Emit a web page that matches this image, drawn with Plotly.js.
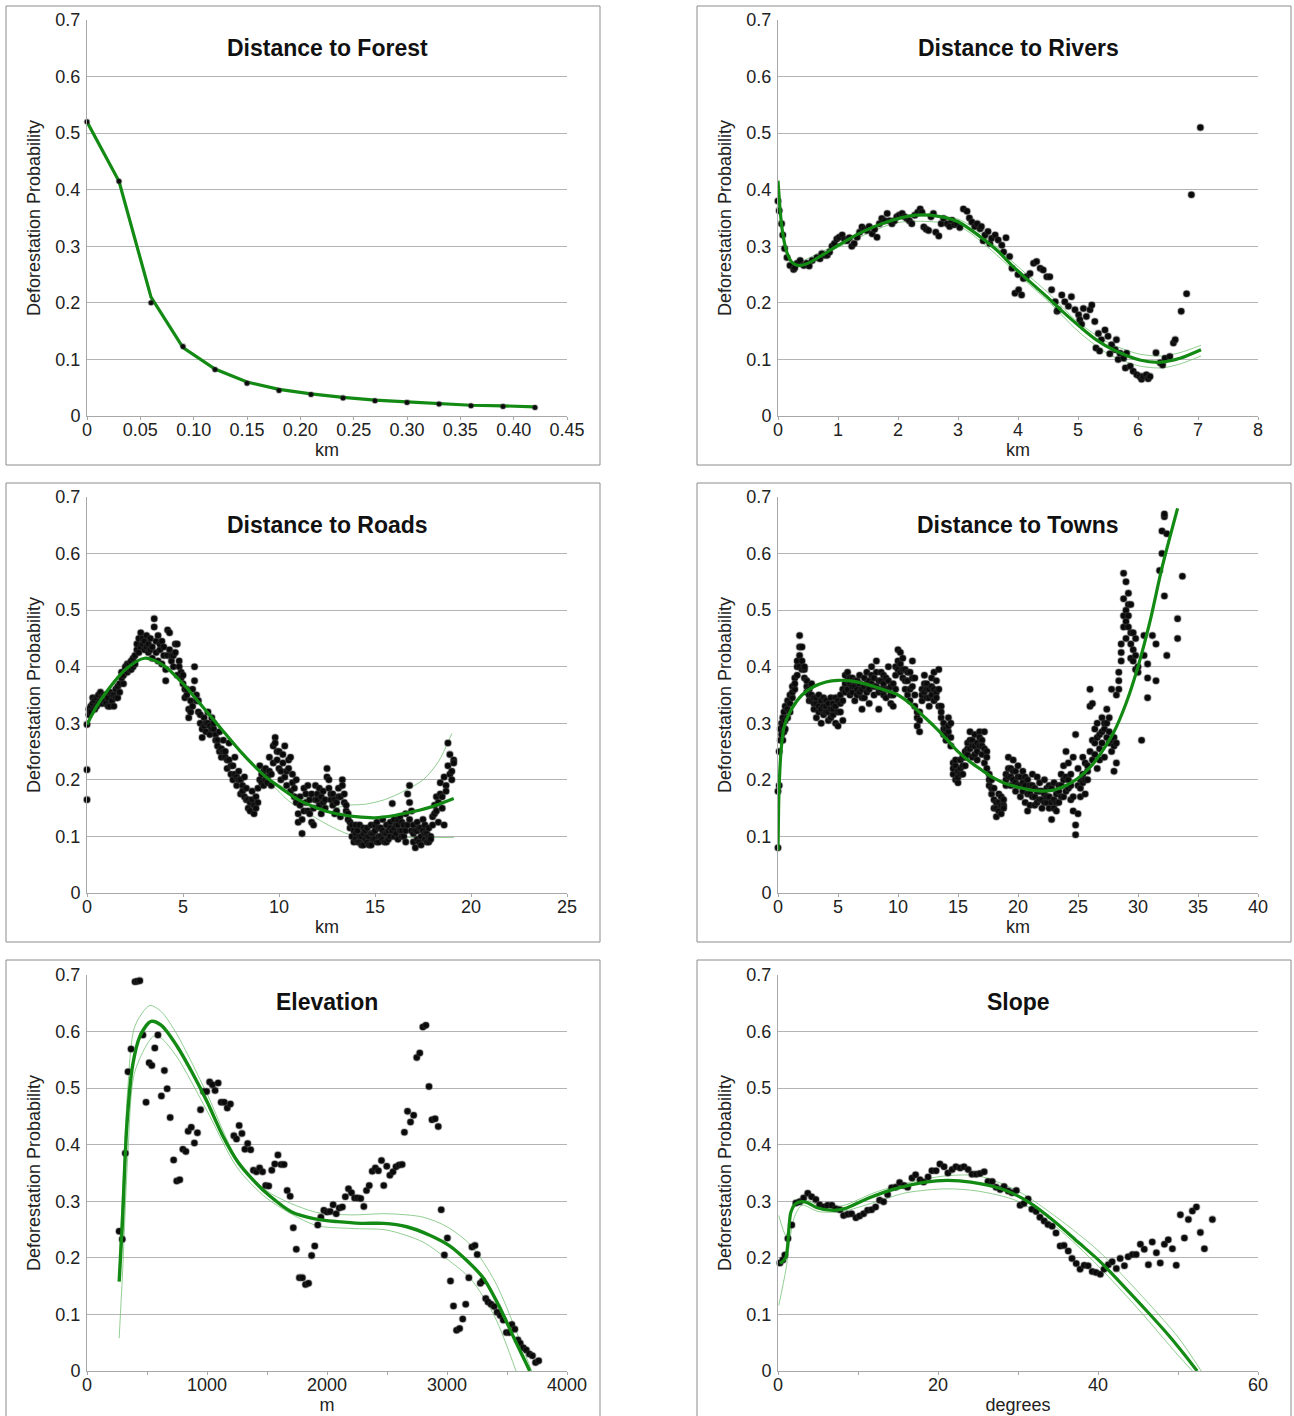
<!DOCTYPE html>
<html><head><meta charset="utf-8">
<script src="https://cdn.plot.ly/plotly-3.0.1.min.js"></script>
<style>html,body{margin:0;padding:0;background:#fff}#c{width:1294px;height:1416px}</style>
</head><body><div id="c"></div>
<script>
// ---------- titles / labels ----------
const panelTitles = ["Distance to Forest","Distance to Rivers","Distance to Roads","Distance to Towns","Elevation","Slope"];
const xTitles = ["km","km","km","km","m","degrees"];
const yTitle = "Deforestation Probability";
const xRanges = [[0,0.45],[0,8],[0,25],[0,40],[0,4000],[0,60]];
const xTickVals = [[0,0.05,0.10,0.15,0.20,0.25,0.30,0.35,0.40,0.45],[0,1,2,3,4,5,6,7,8],[0,5,10,15,20,25],[0,5,10,15,20,25,30,35,40],[0,1000,2000,3000,4000],[0,20,40,60]];
const xTickText = [["0","0.05","0.10","0.15","0.20","0.25","0.30","0.35","0.40","0.45"],["0","1","2","3","4","5","6","7","8"],["0","5","10","15","20","25"],["0","5","10","15","20","25","30","35","40"],["0","1000","2000","3000","4000"],["0","20","40","60"]];

// ---------- Distance to Forest ----------
const forestX = [0,0.03,0.06,0.09,0.12,0.15,0.18,0.21,0.24,0.27,0.30,0.33,0.36,0.39,0.42];
const forestY = [0.52,0.415,0.20,0.123,0.082,0.058,0.045,0.038,0.032,0.027,0.024,0.021,0.018,0.017,0.015];
const forestFitY = [0.52,0.415,0.21,0.121,0.083,0.060,0.047,0.039,0.033,0.028,0.025,0.022,0.019,0.018,0.016];

// ---------- Distance to Rivers ----------
const riversPts = [[0,0.38],[0.02,0.363],[0.06,0.34],[0.08,0.32],[0.11,0.296],[0.15,0.28],[0.2,0.266],[0.26,0.259],[0.28,0.262],[0.32,0.27],[0.37,0.275],[0.43,0.266],[0.48,0.27],[0.52,0.265],[0.57,0.275],[0.65,0.28],[0.7,0.278],[0.73,0.287],[0.78,0.284],[0.82,0.284],[0.86,0.29],[0.9,0.30],[0.94,0.305],[0.98,0.313],[1.02,0.316],[1.07,0.32],[1.11,0.312],[1.15,0.31],[1.19,0.315],[1.23,0.30],[1.27,0.305],[1.32,0.316],[1.36,0.325],[1.4,0.334],[1.44,0.33],[1.48,0.328],[1.52,0.335],[1.57,0.322],[1.61,0.33],[1.65,0.316],[1.69,0.34],[1.73,0.349],[1.78,0.345],[1.82,0.358],[1.86,0.345],[1.9,0.34],[1.94,0.345],[1.98,0.352],[2.02,0.355],[2.07,0.358],[2.11,0.352],[2.15,0.349],[2.19,0.345],[2.23,0.34],[2.28,0.355],[2.33,0.36],[2.37,0.366],[2.4,0.36],[2.43,0.334],[2.47,0.33],[2.51,0.328],[2.55,0.352],[2.59,0.358],[2.63,0.325],[2.68,0.318],[2.72,0.34],[2.76,0.349],[2.82,0.34],[2.86,0.335],[2.9,0.346],[2.94,0.338],[2.98,0.34],[3.03,0.333],[3.09,0.366],[3.15,0.362],[3.19,0.35],[3.23,0.343],[3.28,0.335],[3.32,0.34],[3.37,0.331],[3.39,0.335],[3.42,0.31],[3.45,0.32],[3.5,0.326],[3.53,0.305],[3.56,0.314],[3.62,0.32],[3.67,0.311],[3.73,0.302],[3.76,0.29],[3.8,0.315],[3.86,0.282],[3.9,0.261],[3.95,0.217],[4.0,0.25],[4.01,0.223],[4.06,0.214],[4.09,0.243],[4.14,0.246],[4.2,0.252],[4.26,0.27],[4.31,0.273],[4.37,0.261],[4.42,0.258],[4.48,0.246],[4.53,0.246],[4.56,0.223],[4.62,0.202],[4.65,0.185],[4.67,0.188],[4.73,0.214],[4.78,0.202],[4.84,0.194],[4.89,0.211],[4.95,0.188],[5.01,0.179],[5.03,0.17],[5.06,0.162],[5.09,0.19],[5.14,0.176],[5.2,0.188],[5.23,0.196],[5.28,0.167],[5.3,0.12],[5.34,0.146],[5.36,0.115],[5.39,0.135],[5.45,0.152],[5.5,0.141],[5.53,0.11],[5.56,0.126],[5.62,0.117],[5.64,0.135],[5.67,0.10],[5.7,0.111],[5.76,0.102],[5.79,0.085],[5.81,0.111],[5.87,0.088],[5.92,0.079],[5.98,0.073],[6.03,0.07],[6.06,0.065],[6.09,0.07],[6.14,0.073],[6.17,0.066],[6.2,0.07],[6.3,0.112],[6.37,0.094],[6.41,0.09],[6.45,0.102],[6.53,0.105],[6.59,0.129],[6.62,0.135],[6.72,0.185],[6.81,0.216],[6.89,0.391],[7.04,0.51]];
const riversFitX = [0,0.04,0.08,0.12,0.17,0.23,0.34,0.5,0.73,1.01,1.34,1.73,2.29,2.68,3.01,3.37,3.65,3.92,4.2,4.48,4.75,5.03,5.3,5.59,6.03,6.37,6.7,7.05];
const riversFitY = [0.416,0.358,0.322,0.30,0.283,0.272,0.266,0.27,0.284,0.302,0.322,0.34,0.355,0.353,0.343,0.317,0.293,0.264,0.237,0.211,0.184,0.158,0.135,0.117,0.099,0.095,0.102,0.117];
const riversUpX = [0.3,1,2,3,3.5,4,4.5,5,5.5,6,6.4,6.7,7.05];
const riversUpY = [0.268,0.304,0.350,0.348,0.312,0.264,0.218,0.166,0.130,0.110,0.106,0.112,0.125];
const riversLoX = [0.3,1,2,3,3.5,4,4.5,5,5.5,6,6.4,6.7,7.05];
const riversLoY = [0.262,0.298,0.342,0.336,0.298,0.250,0.203,0.150,0.110,0.089,0.085,0.092,0.106];

// ---------- Distance to Roads: [km, prob, prob, ...] ----------
const roadsPts = [[0,0.165,0.218,0.298],[0.1,0.315,0.325],[0.2,0.33,0.32],[0.3,0.335,0.345],[0.4,0.34,0.325],[0.5,0.345,0.33],[0.6,0.35,0.335],[0.7,0.355,0.34],[0.8,0.345,0.335],[0.9,0.34,0.35],[1.0,0.335,0.35],[1.1,0.345,0.33],[1.2,0.33,0.355],[1.3,0.34,0.35],[1.4,0.35,0.33],[1.5,0.36,0.345],[1.6,0.345,0.365],[1.7,0.37,0.355],[1.8,0.38,0.39],[1.9,0.385,0.37],[2.0,0.395,0.40],[2.1,0.39,0.405],[2.2,0.405,0.395],[2.3,0.41,0.395],[2.4,0.40,0.415],[2.5,0.42,0.405],[2.6,0.43,0.44],[2.7,0.45,0.425],[2.8,0.46,0.435],[2.9,0.44,0.45],[3.0,0.445,0.43],[3.1,0.455,0.435],[3.2,0.44,0.425],[3.3,0.45,0.43],[3.4,0.435,0.415],[3.5,0.485,0.47],[3.6,0.445,0.425],[3.7,0.455,0.41],[3.8,0.43,0.44],[3.9,0.445,0.405],[4.0,0.42,0.435],[4.1,0.395,0.375],[4.2,0.465,0.42],[4.3,0.46,0.43],[4.4,0.41,0.42],[4.5,0.42,0.40],[4.6,0.425,0.44],[4.7,0.44,0.385],[4.8,0.41,0.40],[4.9,0.39,0.38],[5.0,0.37,0.385],[5.1,0.36,0.345],[5.2,0.35,0.36],[5.3,0.325,0.31],[5.4,0.34,0.32],[5.5,0.33,0.36],[5.6,0.40,0.375],[5.7,0.35,0.34],[5.8,0.34,0.32],[5.9,0.30,0.315],[6.0,0.29,0.275],[6.1,0.31,0.295],[6.2,0.30,0.285],[6.3,0.32,0.30],[6.4,0.295,0.28],[6.5,0.31,0.29],[6.6,0.29,0.30],[6.7,0.28,0.27],[6.8,0.27,0.26],[6.9,0.285,0.25],[7.0,0.24,0.255],[7.1,0.27,0.25],[7.2,0.24,0.25],[7.3,0.22,0.235],[7.4,0.265,0.235],[7.5,0.21,0.225],[7.6,0.225,0.20],[7.7,0.24,0.21],[7.8,0.205,0.19],[7.9,0.215,0.20],[8.0,0.175,0.20],[8.1,0.19,0.18],[8.2,0.17,0.205],[8.3,0.185,0.165],[8.4,0.165,0.15],[8.5,0.145,0.16],[8.6,0.165,0.18],[8.7,0.155,0.14],[8.8,0.15,0.17],[8.9,0.185,0.16],[9.0,0.20,0.225],[9.1,0.21,0.195],[9.2,0.215,0.19],[9.3,0.22,0.20],[9.4,0.205,0.195],[9.5,0.24,0.215],[9.6,0.21,0.19],[9.7,0.26,0.23],[9.8,0.275,0.265],[9.9,0.235,0.25],[10.0,0.22,0.25],[10.1,0.20,0.215],[10.2,0.23,0.245],[10.3,0.26,0.205],[10.4,0.215,0.19],[10.5,0.22,0.235],[10.6,0.18,0.24],[10.7,0.195,0.21],[10.8,0.17,0.185],[10.9,0.20,0.16],[11.0,0.14,0.125],[11.1,0.155,0.17],[11.2,0.105,0.13],[11.3,0.145,0.185],[11.4,0.175,0.16],[11.5,0.19,0.145],[11.6,0.14,0.165],[11.7,0.175,0.125],[11.8,0.12,0.15],[11.9,0.19,0.165],[12.0,0.165,0.175],[12.1,0.155,0.185],[12.2,0.17,0.14],[12.3,0.18,0.16],[12.4,0.165,0.15],[12.5,0.22,0.205],[12.6,0.20,0.185],[12.7,0.165,0.175],[12.8,0.175,0.155],[12.9,0.14,0.165],[13.0,0.145,0.16],[13.1,0.185,0.17],[13.2,0.17,0.135],[13.3,0.20,0.19],[13.4,0.16,0.175],[13.5,0.145,0.155],[13.6,0.13,0.14],[13.7,0.115,0.125],[13.8,0.10,0.12],[13.9,0.09,0.11],[14.0,0.105,0.095,0.12],[14.1,0.11,0.09],[14.2,0.09,0.12,0.10],[14.3,0.10,0.085],[14.4,0.085,0.105,0.115],[14.5,0.095,0.11],[14.6,0.115,0.09,0.10],[14.7,0.10,0.085],[14.8,0.085,0.12,0.105],[14.9,0.105,0.095],[15.0,0.095,0.11,0.12],[15.1,0.125,0.09],[15.2,0.09,0.10,0.115],[15.3,0.115,0.10],[15.4,0.13,0.095,0.11],[15.5,0.105,0.09],[15.6,0.12,0.09,0.105],[15.7,0.11,0.095],[15.8,0.125,0.10,0.115],[15.9,0.158,0.11],[16.0,0.115,0.13,0.10],[16.1,0.105,0.12],[16.2,0.12,0.095,0.13],[16.3,0.135,0.11],[16.4,0.11,0.125,0.10],[16.5,0.10,0.12],[16.6,0.14,0.09,0.11],[16.7,0.175,0.12],[16.8,0.19,0.16,0.13],[16.9,0.145,0.11],[17.0,0.12,0.105,0.09],[17.1,0.08,0.11],[17.2,0.11,0.125,0.095],[17.3,0.09,0.115],[17.4,0.115,0.10,0.085],[17.5,0.13,0.11],[17.6,0.095,0.12,0.105],[17.7,0.105,0.09],[17.8,0.09,0.115,0.10],[17.9,0.10,0.095],[18.0,0.135,0.12],[18.1,0.155,0.14],[18.2,0.145,0.17],[18.3,0.16,0.125],[18.4,0.175,0.195],[18.5,0.15,0.17],[18.6,0.205,0.12],[18.7,0.19,0.18],[18.8,0.265,0.225],[18.9,0.245,0.21],[19.0,0.20,0.215],[19.1,0.235,0.23]];
const roadsFitX = [0,0.5,1,2,3,4,5,6,7,8,9,9.5,10,11,12,13,14,15,16,17,18,19.1];
const roadsFitY = [0.298,0.33,0.355,0.395,0.415,0.402,0.37,0.33,0.29,0.25,0.215,0.20,0.188,0.165,0.15,0.14,0.135,0.133,0.137,0.144,0.153,0.167];
const roadsUpX = [9.5,11,12,13,13.5,14.5,15.5,16.5,17.5,18.3,19.0];
const roadsUpY = [0.202,0.172,0.158,0.151,0.155,0.157,0.165,0.180,0.200,0.232,0.282];
const roadsLoX = [9.5,10.5,11.8,12.8,13.7,14.5,15.5,16.5,17.5,18.5,19.1];
const roadsLoY = [0.197,0.163,0.135,0.116,0.103,0.10,0.099,0.098,0.098,0.098,0.098];

// ---------- Distance to Towns: [km, prob, prob, ...] ----------
const townsPts = [[0.0,0.08,0.18],[0.1,0.19,0.25],[0.2,0.27,0.29],[0.3,0.28,0.3],[0.4,0.295,0.31,0.27],[0.5,0.32,0.285],[0.6,0.305,0.33,0.29],[0.8,0.31,0.34,0.325],[1.0,0.335,0.35,0.32],[1.2,0.365,0.345,0.355],[1.4,0.38,0.36,0.37],[1.6,0.40,0.385,0.41],[1.8,0.455,0.42,0.40,0.435],[2.0,0.435,0.41,0.395],[2.2,0.395,0.38,0.40],[2.4,0.365,0.375,0.355],[2.6,0.35,0.36,0.34],[2.8,0.34,0.37,0.35],[3.0,0.345,0.325,0.335],[3.2,0.31,0.335,0.345],[3.4,0.35,0.32,0.33],[3.6,0.30,0.34,0.325],[3.8,0.33,0.345,0.315],[4.0,0.32,0.34,0.33],[4.2,0.335,0.305,0.32],[4.4,0.345,0.325,0.31],[4.6,0.315,0.335,0.325],[4.8,0.30,0.33,0.345],[5.0,0.295,0.34,0.32],[5.2,0.32,0.35,0.335],[5.4,0.305,0.36,0.34],[5.6,0.385,0.37,0.355],[5.8,0.39,0.36,0.375],[6.0,0.37,0.35,0.38],[6.2,0.38,0.355,0.365],[6.4,0.365,0.34,0.375],[6.6,0.375,0.35,0.36],[6.8,0.355,0.385,0.37],[7.0,0.36,0.325,0.345],[7.2,0.38,0.345,0.365],[7.4,0.39,0.37,0.355],[7.6,0.335,0.36,0.375],[7.8,0.40,0.37,0.385],[8.0,0.38,0.35,0.365],[8.2,0.41,0.365,0.39],[8.4,0.375,0.325,0.355],[8.6,0.39,0.36,0.375],[8.8,0.35,0.37,0.385],[9.0,0.345,0.38,0.36],[9.2,0.40,0.36,0.375],[9.4,0.335,0.35,0.365],[9.6,0.37,0.33,0.35],[9.8,0.40,0.36,0.385],[10.0,0.43,0.41,0.395],[10.2,0.425,0.39,0.405],[10.4,0.415,0.38,0.395],[10.6,0.395,0.36,0.375],[10.8,0.375,0.35,0.39],[11.0,0.39,0.34,0.36],[11.2,0.41,0.365,0.38],[11.4,0.38,0.35,0.33],[11.6,0.31,0.295,0.32],[11.8,0.285,0.32,0.305],[12.0,0.36,0.34,0.35],[12.2,0.385,0.355,0.37],[12.4,0.345,0.37,0.36],[12.6,0.33,0.36,0.345],[12.8,0.38,0.35,0.365],[13.0,0.39,0.34,0.36],[13.2,0.375,0.355,0.345],[13.4,0.395,0.33,0.36],[13.6,0.31,0.33,0.32],[13.8,0.28,0.30,0.29],[14.0,0.29,0.27,0.28],[14.2,0.31,0.285,0.295],[14.4,0.275,0.30,0.26],[14.6,0.23,0.21,0.22],[14.8,0.20,0.225,0.235],[15.0,0.195,0.215,0.205],[15.2,0.235,0.22,0.21],[15.4,0.21,0.24,0.225],[15.6,0.25,0.225,0.24],[15.8,0.265,0.245,0.255],[16.0,0.285,0.255,0.27],[16.2,0.27,0.24,0.26],[16.4,0.26,0.28,0.245],[16.6,0.25,0.235,0.265],[16.8,0.285,0.26,0.275],[17.0,0.27,0.245,0.26],[17.2,0.285,0.23,0.255],[17.4,0.22,0.25,0.24],[17.6,0.21,0.19,0.20],[17.8,0.175,0.20,0.185],[18.0,0.165,0.185,0.15],[18.2,0.135,0.15,0.16],[18.4,0.145,0.16,0.175],[18.6,0.17,0.14,0.155],[18.8,0.155,0.15,0.165],[19.0,0.19,0.21,0.20],[19.2,0.24,0.205,0.22],[19.4,0.22,0.19,0.205],[19.6,0.235,0.20,0.215],[19.8,0.215,0.18,0.195],[20.0,0.19,0.225,0.205],[20.2,0.205,0.17,0.19],[20.4,0.18,0.215,0.195],[20.6,0.19,0.16,0.205],[20.8,0.145,0.20,0.175],[21.0,0.175,0.155,0.19],[21.2,0.21,0.19,0.17],[21.4,0.17,0.185,0.155],[21.6,0.205,0.16,0.18],[21.8,0.18,0.195,0.165],[22.0,0.165,0.15,0.18],[22.2,0.20,0.175,0.16],[22.4,0.185,0.16,0.17],[22.6,0.15,0.17,0.19],[22.8,0.13,0.185,0.16],[23.0,0.165,0.195,0.15],[23.2,0.145,0.175,0.16],[23.4,0.18,0.16,0.19],[23.6,0.21,0.19,0.17],[23.8,0.225,0.17,0.20],[24.0,0.25,0.205,0.18],[24.2,0.23,0.185,0.20],[24.4,0.165,0.21,0.19],[24.6,0.24,0.145,0.17],[24.8,0.28,0.12,0.103],[25.0,0.14,0.22,0.19],[25.2,0.20,0.185,0.17],[25.4,0.24,0.21,0.195],[25.6,0.175,0.23,0.20],[25.8,0.20,0.215,0.225],[26.0,0.33,0.36,0.25],[26.2,0.335,0.27,0.235],[26.4,0.29,0.245,0.265],[26.6,0.30,0.22,0.275],[26.8,0.28,0.255,0.235],[27.0,0.31,0.265,0.285],[27.2,0.29,0.24,0.30],[27.4,0.325,0.30,0.275],[27.6,0.285,0.265,0.31],[27.8,0.36,0.27,0.25],[28.0,0.26,0.215,0.275],[28.2,0.35,0.23,0.265],[28.4,0.39,0.36,0.375],[28.6,0.44,0.41,0.425],[28.8,0.565,0.52,0.47,0.49],[29.0,0.55,0.50,0.45,0.48],[29.2,0.49,0.47,0.53,0.51],[29.4,0.51,0.44,0.415,0.46],[29.6,0.46,0.43,0.41],[29.8,0.45,0.395,0.42],[30.0,0.39,0.40],[30.3,0.27],[30.5,0.455,0.42],[30.8,0.405,0.38,0.345],[31.2,0.455],[31.5,0.375,0.44],[31.8,0.57],[32.0,0.60,0.64],[32.2,0.665,0.67,0.525],[32.4,0.42,0.635],[33.3,0.485,0.45],[33.7,0.56]];
const townsFitX = [0,0.05,0.1,0.25,0.5,1,2,3,4,5,6,7,8,9,10,11,12,13,14,15,16,17,18,19,20,21,22,23,24,25,26,27,28,29,30,31,32,33.3];
const townsFitY = [0.075,0.15,0.19,0.25,0.293,0.32,0.35,0.365,0.373,0.376,0.375,0.371,0.365,0.358,0.35,0.335,0.315,0.295,0.273,0.25,0.232,0.217,0.203,0.193,0.187,0.182,0.18,0.182,0.19,0.203,0.222,0.25,0.285,0.335,0.40,0.48,0.575,0.68];

// ---------- Elevation ----------
const elevX = [268,294,319,342,367,400,420,440,466,492,518,540,565,591,620,645,668,693,722,748,773,799,824,843,869,895,920,946,971,997,1022,1045,1067,1093,1118,1144,1169,1195,1224,1246,1268,1291,1316,1339,1364,1387,1412,1438,1463,1489,1514,1540,1565,1591,1617,1642,1668,1693,1719,1744,1770,1795,1821,1846,1872,1898,1923,1949,1974,2000,2026,2051,2077,2102,2128,2153,2179,2204,2230,2256,2281,2307,2329,2352,2377,2403,2428,2454,2473,2498,2524,2550,2575,2601,2626,2645,2671,2696,2722,2748,2773,2799,2824,2850,2875,2901,2927,2952,2978,3003,3029,3054,3080,3105,3131,3156,3182,3208,3233,3252,3278,3297,3323,3342,3367,3393,3418,3444,3469,3495,3521,3540,3565,3591,3610,3636,3661,3687,3712,3738,3764];
const elevY = [0.247,0.233,0.385,0.529,0.569,0.688,0.689,0.69,0.594,0.475,0.545,0.54,0.571,0.594,0.486,0.531,0.499,0.448,0.373,0.336,0.338,0.392,0.388,0.424,0.431,0.403,0.421,0.462,0.494,0.494,0.511,0.506,0.496,0.509,0.475,0.475,0.465,0.472,0.416,0.41,0.434,0.42,0.392,0.402,0.391,0.355,0.352,0.359,0.352,0.328,0.327,0.355,0.366,0.382,0.365,0.365,0.319,0.309,0.253,0.215,0.165,0.165,0.153,0.155,0.204,0.221,0.258,0.272,0.284,0.281,0.282,0.294,0.278,0.288,0.29,0.308,0.322,0.315,0.306,0.306,0.305,0.291,0.319,0.328,0.353,0.359,0.354,0.372,0.328,0.362,0.346,0.352,0.361,0.364,0.365,0.422,0.459,0.44,0.452,0.554,0.562,0.608,0.611,0.503,0.444,0.446,0.432,0.285,0.205,0.235,0.159,0.115,0.072,0.075,0.092,0.118,0.165,0.219,0.222,0.206,0.155,0.159,0.128,0.122,0.118,0.114,0.104,0.098,0.09,0.068,0.068,0.082,0.074,0.055,0.049,0.041,0.037,0.03,0.027,0.015,0.018];
const elevFitX = [268,294,332,380,444,533,620,748,875,1003,1131,1259,1387,1514,1706,1898,2089,2281,2473,2665,2856,3016,3176,3304,3431,3559,3690];
const elevFitY = [0.158,0.258,0.434,0.54,0.593,0.618,0.611,0.575,0.528,0.475,0.416,0.369,0.337,0.311,0.281,0.269,0.264,0.261,0.261,0.255,0.24,0.222,0.193,0.164,0.116,0.058,0.0];
const elevUpX = [268,300,340,400,524,620,750,1000,1250,1500,1900,2200,2500,2800,3000,3200,3400,3550,3705];
const elevUpY = [0.20,0.33,0.50,0.61,0.646,0.635,0.595,0.49,0.375,0.318,0.281,0.276,0.278,0.272,0.255,0.222,0.158,0.085,0.0];
const elevLoX = [268,300,340,400,556,620,750,1000,1250,1500,1900,2200,2500,2800,3000,3200,3400,3575];
const elevLoY = [0.058,0.19,0.38,0.53,0.592,0.588,0.555,0.46,0.36,0.305,0.258,0.252,0.249,0.228,0.198,0.162,0.095,0.0];

// ---------- Slope ----------
const slopeX = [0.24,0.6,0.86,1.24,1.72,2.24,2.72,3.2,3.72,4.2,4.73,5.2,5.73,6.2,6.73,7.2,7.73,8.2,8.73,9.2,9.74,10.2,10.7,11.2,11.7,12.2,12.7,13.2,13.7,14.2,14.7,15.2,15.75,16.2,16.75,17.2,17.75,18.2,18.76,19.24,19.76,20.24,20.76,21.24,21.77,22.24,22.77,23.25,23.77,24.25,24.77,25.25,25.78,26.25,26.78,27.26,27.78,28.26,28.78,29.26,29.79,30.26,30.74,31.26,31.74,32.27,32.74,33.27,33.75,34.27,34.75,35.27,35.75,36.28,36.75,37.28,37.76,38.28,38.76,39.28,39.76,40.29,40.76,41.29,41.77,42.29,42.77,43.3,43.77,44.3,44.77,45.3,45.78,46.3,46.78,47.3,47.78,48.3,48.78,49.3,49.78,50.3,50.8,51.3,51.8,52.3,52.8,53.3,54.3];
const slopeY = [0.191,0.196,0.205,0.234,0.258,0.297,0.299,0.306,0.314,0.308,0.303,0.294,0.29,0.293,0.293,0.287,0.285,0.275,0.277,0.278,0.271,0.274,0.278,0.284,0.285,0.29,0.302,0.299,0.312,0.324,0.325,0.333,0.328,0.325,0.341,0.347,0.338,0.334,0.343,0.354,0.354,0.366,0.361,0.35,0.356,0.361,0.359,0.361,0.356,0.348,0.348,0.349,0.352,0.335,0.335,0.325,0.321,0.326,0.318,0.315,0.319,0.293,0.296,0.304,0.286,0.282,0.272,0.265,0.259,0.256,0.244,0.221,0.222,0.212,0.199,0.19,0.18,0.187,0.186,0.176,0.174,0.171,0.18,0.188,0.193,0.181,0.199,0.186,0.202,0.206,0.206,0.224,0.215,0.188,0.228,0.209,0.191,0.224,0.232,0.216,0.187,0.276,0.235,0.268,0.283,0.29,0.245,0.216,0.268];
const slopeFitX = [0.24,0.95,1.6,2.24,3.34,5.0,6.9,8.35,11.2,14.6,18.4,21.2,24.1,27.9,31.3,34.6,37.5,40.3,43.2,46.1,48.9,50.7,52.4];
const slopeFitY = [0.19,0.20,0.28,0.296,0.299,0.288,0.284,0.287,0.305,0.322,0.334,0.337,0.334,0.322,0.299,0.264,0.228,0.193,0.150,0.106,0.062,0.031,0.0];
const slopeUpX = [0.1,1,2,3,5,8,12,16,21,25,30,35,40,45,50,52.9];
const slopeUpY = [0.275,0.24,0.30,0.305,0.294,0.292,0.315,0.332,0.345,0.345,0.318,0.27,0.213,0.14,0.06,0.0];
const slopeLoX = [0.1,1,2,3,5,8,12,16,21,25,30,35,40,45,50,51.8];
const slopeLoY = [0.116,0.18,0.27,0.293,0.282,0.282,0.298,0.315,0.322,0.318,0.30,0.252,0.186,0.11,0.028,0.0];

// ---------- helpers ----------
function flat(groups){const x=[],y=[];groups.forEach(g=>{for(let i=1;i<g.length;i++){x.push(g[0]);y.push(g[i]);}});return {x,y};}
function pairs(p){return {x:p.map(a=>a[0]),y:p.map(a=>a[1])};}
const GREEN = '#138a13', BAND = 'rgba(110,190,110,0.75)';
const FONT = 'Liberation Sans, Arial, Helvetica, sans-serif';
function pts(d,i,size){return {type:'scatter',mode:'markers',x:d.x,y:d.y,xaxis:'x'+(i===1?'':i),yaxis:'y'+(i===1?'':i),
  marker:{size:size||6,color:'#0a0a0a',line:{width:1.6,color:'rgba(60,60,60,0.35)'}},hoverinfo:'skip',showlegend:false,cliponaxis:false};}
function ln(x,y,i,w,c,shape){return {type:'scatter',mode:'lines',x:x,y:y,xaxis:'x'+(i===1?'':i),yaxis:'y'+(i===1?'':i),
  line:{width:w,color:c,shape:shape||'spline',smoothing:0.8},hoverinfo:'skip',showlegend:false};}

const roads = flat(roadsPts), towns = flat(townsPts), rivers = pairs(riversPts);
const traces = [
  ln(forestX,forestFitY,1,3.2,GREEN,'linear'),
  pts({x:forestX,y:forestY},1,5),
  ln(riversUpX,riversUpY,2,1,BAND), ln(riversLoX,riversLoY,2,1,BAND),
  pts(rivers,2,6.5),
  ln(riversFitX,riversFitY,2,3.2,GREEN),
  ln(roadsUpX,roadsUpY,3,1,BAND), ln(roadsLoX,roadsLoY,3,1,BAND),
  pts(roads,3,6.5),
  ln(roadsFitX,roadsFitY,3,3.2,GREEN),
  pts(towns,4,6.5),
  ln(townsFitX,townsFitY,4,3.2,GREEN),
  ln(elevUpX,elevUpY,5,1,BAND), ln(elevLoX,elevLoY,5,1,BAND),
  pts({x:elevX,y:elevY},5,6.5),
  ln(elevFitX,elevFitY,5,3.4,GREEN),
  ln(slopeUpX,slopeUpY,6,1,BAND), ln(slopeLoX,slopeLoY,6,1,BAND),
  pts({x:slopeX,y:slopeY},6,6.5),
  ln(slopeFitX,slopeFitY,6,3.2,GREEN)
];

// ---------- layout geometry (pixels) ----------
const W=1294,H=1416;
const colPx=[[87,567],[778,1258]];
const rowPx=[[20,416],[497,893],[975,1371]];
const boxCol=[[6,600],[697,1291]];
const boxRow=[[6,465],[483,942],[960,1420]];
const titleY=[48,525,1002];
const minorD=[null,null,null,null,500,10];
const xStandoff=[2,1,4,1,1,4];
const layout={width:W,height:H,margin:{l:0,r:0,t:0,b:0},paper_bgcolor:'#fff',plot_bgcolor:'#fff',
  font:{family:FONT,color:'#222',size:18},showlegend:false,annotations:[],shapes:[]};
for(let i=0;i<6;i++){
  const r=Math.floor(i/2), c=i%2, n=i+1, s=(n===1?'':n);
  layout['xaxis'+s]={domain:[colPx[c][0]/W,colPx[c][1]/W],anchor:'y'+s,range:xRanges[i],
    tickvals:xTickVals[i],ticktext:xTickText[i],showgrid:false,zeroline:false,showline:true,linecolor:'#a8a8a8',linewidth:1,
    ticks:'outside',ticklen:3,tickcolor:'#a8a8a8',ticklabelstandoff:-6,tickfont:{size:18,color:'#222',family:FONT},
    title:{text:xTitles[i],font:{size:18,color:'#222',family:FONT},standoff:xStandoff[i]}};
  if(minorD[i]) layout['xaxis'+s].minor={dtick:minorD[i],tick0:0,ticks:'outside',ticklen:3,tickcolor:'#a8a8a8',showgrid:false};
  layout['yaxis'+s]={domain:[1-rowPx[r][1]/H,1-rowPx[r][0]/H],anchor:'x'+s,range:[0,0.7],dtick:0.1,tick0:0,
    showgrid:true,gridcolor:'#b4b4b4',gridwidth:1,zeroline:false,showline:true,linecolor:'#a8a8a8',linewidth:1,
    ticks:'outside',ticklen:2,tickcolor:'rgba(0,0,0,0)',tickfont:{size:18,color:'#222',family:FONT},
    title:{text:yTitle,font:{size:18,color:'#222',family:FONT},standoff:10}};
  layout.annotations.push({xref:'paper',yref:'paper',x:(colPx[c][0]+colPx[c][1])/2/W,y:1-titleY[r]/H,
    text:'<b>'+panelTitles[i]+'</b>',showarrow:false,xanchor:'center',yanchor:'middle',font:{size:23,color:'#111',family:FONT}});
  layout.shapes.push({type:'rect',xref:'paper',yref:'paper',x0:boxCol[c][0]/W,x1:boxCol[c][1]/W,
    y0:1-boxRow[r][1]/H,y1:1-boxRow[r][0]/H,line:{color:'#8c8c8c',width:1},fillcolor:'rgba(0,0,0,0)',layer:'below'});
}
Plotly.newPlot('c',traces,layout,{staticPlot:true,displayModeBar:false});
</script></body></html>
